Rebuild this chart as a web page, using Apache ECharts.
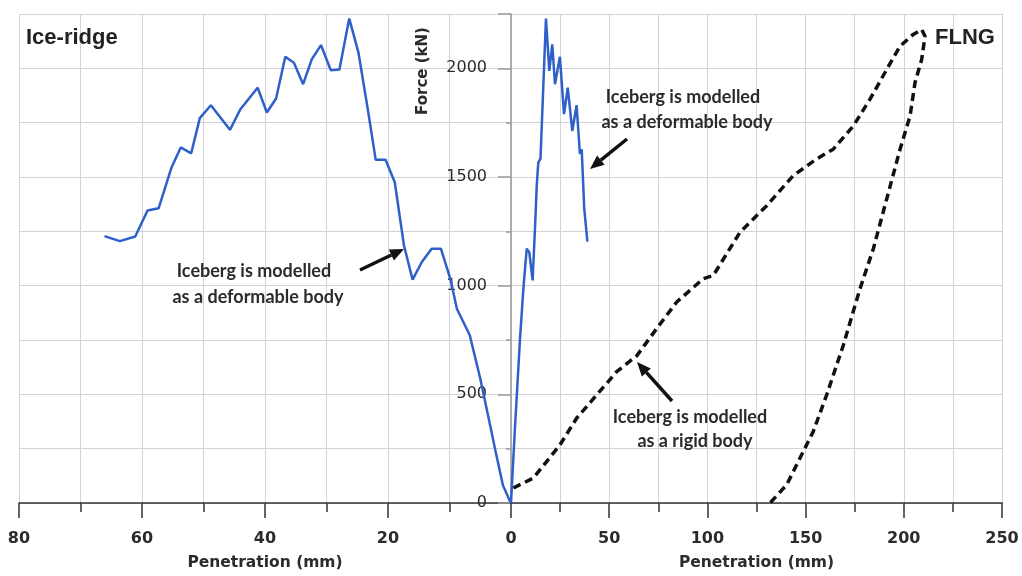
<!DOCTYPE html>
<html><head><meta charset="utf-8">
<script src="https://cdn.jsdelivr.net/npm/echarts@6/dist/echarts.min.js"></script>
<style>html,body{margin:0;padding:0;background:#fff}#c{width:1022px;height:576px}</style>
</head><body><div id="c"></div>
<script>
// Ice-ridge, deformable iceberg (left panel, penetration in mm, force in kN)
const iceRidgePen = [0, 0.2, 1.3, 2.6, 3.4, 5.0, 6.7, 8.8, 9.8, 11.4, 12.9, 14.5, 16.0, 17.4, 18.9, 20.4, 22.0, 23.2, 24.8, 26.3, 27.9, 29.3, 30.9, 32.4, 33.8, 35.3, 36.7, 38.2, 39.7, 41.2, 44.0, 45.7, 48.8, 50.6, 52.0, 53.7, 55.2, 57.3, 59.1, 61.1, 63.6, 66.1];
const iceRidgeForce = [0, 10, 80, 250, 359, 573, 772, 894, 1025, 1170, 1170, 1109, 1028, 1185, 1476, 1579, 1579, 1797, 2072, 2229, 1995, 1991, 2107, 2041, 1927, 2026, 2053, 1861, 1797, 1911, 1812, 1717, 1830, 1771, 1609, 1636, 1544, 1356, 1346, 1226, 1205, 1228];
// FLNG, deformable iceberg
const flngDefPen = [0, 2.0, 4.6, 6.3, 8.0, 9.3, 11.0, 12.2, 13.1, 13.9, 15.0, 17.8, 19.5, 21.0, 22.4, 24.9, 27.0, 28.9, 31.2, 33.4, 35.1, 36.0, 37.3, 38.9];
const flngDefForce = [0, 344, 757, 986, 1170, 1154, 1024, 1261, 1460, 1567, 1583, 2229, 1988, 2110, 1927, 2053, 1789, 1911, 1712, 1830, 1606, 1628, 1353, 1203];
// FLNG, rigid iceberg
const flngRigidPen = [1.2, 11.4, 24.9, 33.4, 43.6, 53.8, 64.0, 74.2, 84.4, 97.9, 103, 116.6, 130.2, 143.7, 155.6, 164.1, 174.3, 182.8, 191.3, 198.1, 204.8, 209.1, 210.8, 209.1, 205.7, 203.2, 198.1, 191.3, 184.5, 177.7, 169.2, 160.7, 153.9, 147.1, 140.4, 131.9];
const flngRigidForce = [69, 115, 267, 390, 497, 604, 677, 803, 925, 1032, 1047, 1246, 1368, 1506, 1583, 1628, 1735, 1858, 1995, 2102, 2156, 2179, 2148, 2041, 1934, 1781, 1628, 1399, 1170, 986, 726, 497, 329, 206, 84, 0];
const forceTicks = [0, 500, 1000, 1500, 2000];
const panelTitles = ['Ice-ridge', 'FLNG'];
const xName = 'Penetration (mm)';
const yName = 'Force (kN)';
const noteDeform = ['Iceberg is modelled', 'as a deformable body'];
const noteRigid = ['Iceberg is modelled', 'as a rigid body'];

const pairs = (xs, ys) => xs.map((x, i) => [x, ys[i]]);
const chart = echarts.init(document.getElementById('c'));
const gridColor = '#d2d3da';
const txt = '#2b2b2b';
const tickFont = {color: txt, fontFamily: 'DejaVu Sans', fontWeight: 'bold', fontSize: 16};

function xAxisCfg(idx, max, interval, inverse, showMin) {
  return {
    type: 'value', gridIndex: idx, min: 0, max: max, interval: interval, inverse: inverse,
    axisLine: {show: true, lineStyle: {color: '#333', width: 1.5}},
    axisTick: {show: true, length: 15, lineStyle: {color: '#333', width: 1.5}},
    minorTick: {show: true, splitNumber: 2, length: 9, lineStyle: {color: '#333', width: 1.5}},
    splitLine: {show: true, lineStyle: {color: gridColor, width: 1}},
    minorSplitLine: {show: true, lineStyle: {color: gridColor, width: 1}},
    axisLabel: Object.assign({margin: 28, showMinLabel: showMin}, tickFont),
    name: xName, nameLocation: 'middle', nameGap: 52,
    nameTextStyle: {color: txt, fontFamily: 'DejaVu Sans', fontWeight: 'bold', fontSize: 15.5}
  };
}
function yAxisCfg(idx, showAxis) {
  return {
    type: 'value', gridIndex: idx, min: 0, max: 2250, interval: 500, position: 'left',
    axisLine: {show: showAxis, lineStyle: {color: '#9a9a9a', width: 1.5}},
    axisTick: {show: showAxis, length: 13, lineStyle: {color: '#9a9a9a', width: 1.5}},
    minorTick: {show: showAxis, splitNumber: 2, length: 5, lineStyle: {color: '#9a9a9a', width: 1.5}},
    splitLine: {show: true, lineStyle: {color: gridColor, width: 1}},
    minorSplitLine: {show: true, lineStyle: {color: gridColor, width: 1}},
    axisLabel: Object.assign({show: showAxis, margin: 24,
      formatter: v => forceTicks.indexOf(v) >= 0 ? String(v) : ''}, tickFont, {fontWeight: 'normal', fontSize: 16})
  };
}
function arrow(x1, y1, x2, y2) {
  const a = Math.atan2(y2 - y1, x2 - x1), L = 14, W = 6;
  const bx = x2 - L * Math.cos(a), by = y2 - L * Math.sin(a);
  const px = -Math.sin(a) * W, py = Math.cos(a) * W;
  return [
    {type: 'line', shape: {x1: x1, y1: y1, x2: bx, y2: by}, style: {stroke: '#111', lineWidth: 3.5}, z: 100},
    {type: 'polygon', shape: {points: [[x2, y2], [bx + px, by + py], [bx - px, by - py]]}, style: {fill: '#111'}, z: 100}
  ];
}
const noteStyle = {fill: txt, font: 'bold 18px Lato', textAlign: 'center', textVerticalAlign: 'middle'};
function note(lines, cx1, cy1, cx2, cy2) {
  return [
    {type: 'text', x: cx1, y: cy1, style: Object.assign({text: lines[0]}, noteStyle), z: 100},
    {type: 'text', x: cx2, y: cy2, style: Object.assign({text: lines[1]}, noteStyle), z: 100}
  ];
}

chart.setOption({
  animation: false,
  backgroundColor: '#fff',
  grid: [
    {left: 19, right: 511, top: 14, bottom: 71},
    {left: 511, right: 20, top: 14, bottom: 71}
  ],
  xAxis: [xAxisCfg(0, 80, 20, true, true), xAxisCfg(1, 250, 50, false, false)],
  yAxis: [yAxisCfg(0, false), yAxisCfg(1, true)],
  series: [
    {type: 'line', xAxisIndex: 0, yAxisIndex: 0, data: pairs(iceRidgePen, iceRidgeForce), showSymbol: false,
      lineStyle: {color: '#2f5fc8', width: 2.5}, z: 5},
    {type: 'line', xAxisIndex: 1, yAxisIndex: 1, data: pairs(flngDefPen, flngDefForce), showSymbol: false,
      lineStyle: {color: '#2f5fc8', width: 2.5}, z: 5},
    {type: 'line', xAxisIndex: 1, yAxisIndex: 1, data: pairs(flngRigidPen, flngRigidForce), showSymbol: false,
      lineStyle: {color: '#111', width: 3.5, type: [8, 5]}, z: 4}
  ],
  graphic: [
    {type: 'text', x: 26, y: 38, style: {text: panelTitles[0], fill: '#222', font: 'bold 22px "Liberation Sans"', textVerticalAlign: 'middle'}, z: 100},
    {type: 'text', x: 935, y: 38, style: {text: panelTitles[1], fill: '#222', font: 'bold 22px "Liberation Sans"', textVerticalAlign: 'middle'}, z: 100},
    {type: 'text', x: 423, y: 71, rotation: Math.PI / 2,
      style: {text: yName, fill: txt, font: 'bold 15px "DejaVu Sans"', textAlign: 'center', textVerticalAlign: 'middle'}, z: 100}
  ].concat(
    note(noteDeform, 254, 271, 258, 297),
    note(noteDeform, 683, 97, 687, 122),
    note(noteRigid, 690, 417, 695, 441),
    arrow(360, 270, 404, 249),
    arrow(627, 139, 590, 169),
    arrow(672, 401, 637, 362)
  )
});
</script></body></html>
